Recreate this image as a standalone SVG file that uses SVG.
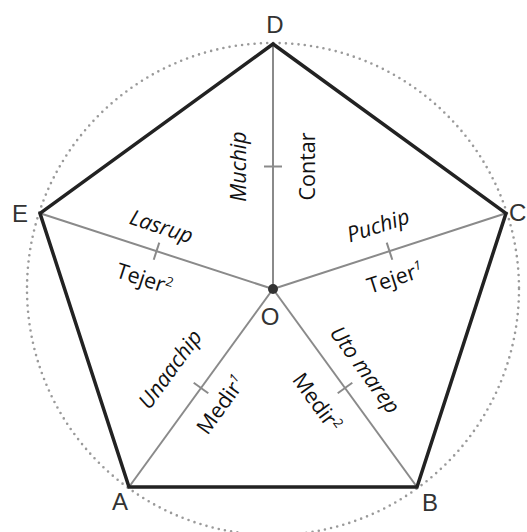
<svg xmlns="http://www.w3.org/2000/svg" width="527" height="532" viewBox="0 0 527 532">
<style>
.edge{fill:none;stroke:#222;stroke-width:3.5;stroke-linejoin:miter}
.spoke{stroke:#8a8a8a;stroke-width:2;fill:none}
.tick{stroke:#8a8a8a;stroke-width:2}
.circ{fill:none;stroke:#9a9a9a;stroke-width:2.6;stroke-linecap:round;stroke-dasharray:0 6.3}
.vl{font-family:"Liberation Sans",Arial,sans-serif;font-size:24px;fill:#333;text-anchor:middle}
.lb{font-family:"Open Sans","Noto Sans",sans-serif;font-size:21.5px;fill:#111;text-anchor:middle}
.it{font-style:italic}
.sup{font-size:13px}
</style>
<rect width="527" height="532" fill="#fff"/>
<circle class="circ" cx="273" cy="289" r="246"/>
<g id="connectors">
<line class="spoke" x1="273" y1="289" x2="273" y2="44"/>
<line class="spoke" x1="273" y1="289" x2="40" y2="213.3"/>
<line class="spoke" x1="273" y1="289" x2="506" y2="213.3"/>
<line class="spoke" x1="273" y1="289" x2="129" y2="487"/>
<line class="spoke" x1="273" y1="289" x2="417" y2="487"/>
<polygon class="edge" points="273,44 506,213.3 417,487 129,487 40,213.3"/>
</g>
<g id="spokeDO" transform="translate(273,166.5) rotate(-90)">
<line class="tick" x1="0" y1="-9" x2="0" y2="9"/>
<text class="lb it" x="0" y="-27.5">Muchip</text>
<text class="lb" x="0" y="41.5">Contar</text>
</g>
<g id="spokeEO" transform="translate(156.5,251.2) rotate(18)">
<line class="tick" x1="0" y1="-9" x2="0" y2="9"/>
<text class="lb it" x="-3" y="-17.5">Lasrup</text>
<text class="lb" x="-3" y="37.5">Tejer<tspan class="sup" dy="-8">2</tspan></text>
</g>
<g id="spokeCO" transform="translate(389.5,251.2) rotate(-18)">
<line class="tick" x1="0" y1="-9" x2="0" y2="9"/>
<text class="lb it" x="-3" y="-20.5">Puchip</text>
<text class="lb" x="-3" y="34.5">Tejer<tspan class="sup it" dy="-8">1</tspan></text>
</g>
<g id="spokeAO" transform="translate(201,388) rotate(-54)">
<line class="tick" x1="0" y1="-9" x2="0" y2="9"/>
<text class="lb it" x="-3" y="-28.5">Unaachip</text>
<text class="lb" x="-2" y="33.5">Medir<tspan class="sup it" dy="-8">1</tspan></text>
</g>
<g id="spokeBO" transform="translate(345,388) rotate(54)">
<line class="tick" x1="0" y1="-9" x2="0" y2="9"/>
<text class="lb it" x="-3" y="-19.5">Uto marep</text>
<text class="lb" x="-5" y="38.5">Medir<tspan class="sup" dy="-8">2</tspan></text>
</g>
<g id="nodeO">
<circle cx="273" cy="289" r="5" fill="#333"/>
<text class="vl" x="270" y="325">O</text>
</g>
<g id="nodeD"><text class="vl" x="275" y="33">D</text></g>
<g id="nodeE"><text class="vl" x="20" y="222">E</text></g>
<g id="nodeC"><text class="vl" x="509" y="221" style="text-anchor:start">C</text></g>
<g id="nodeA"><text class="vl" x="120" y="510">A</text></g>
<g id="nodeB"><text class="vl" x="430" y="511">B</text></g>
</svg>
